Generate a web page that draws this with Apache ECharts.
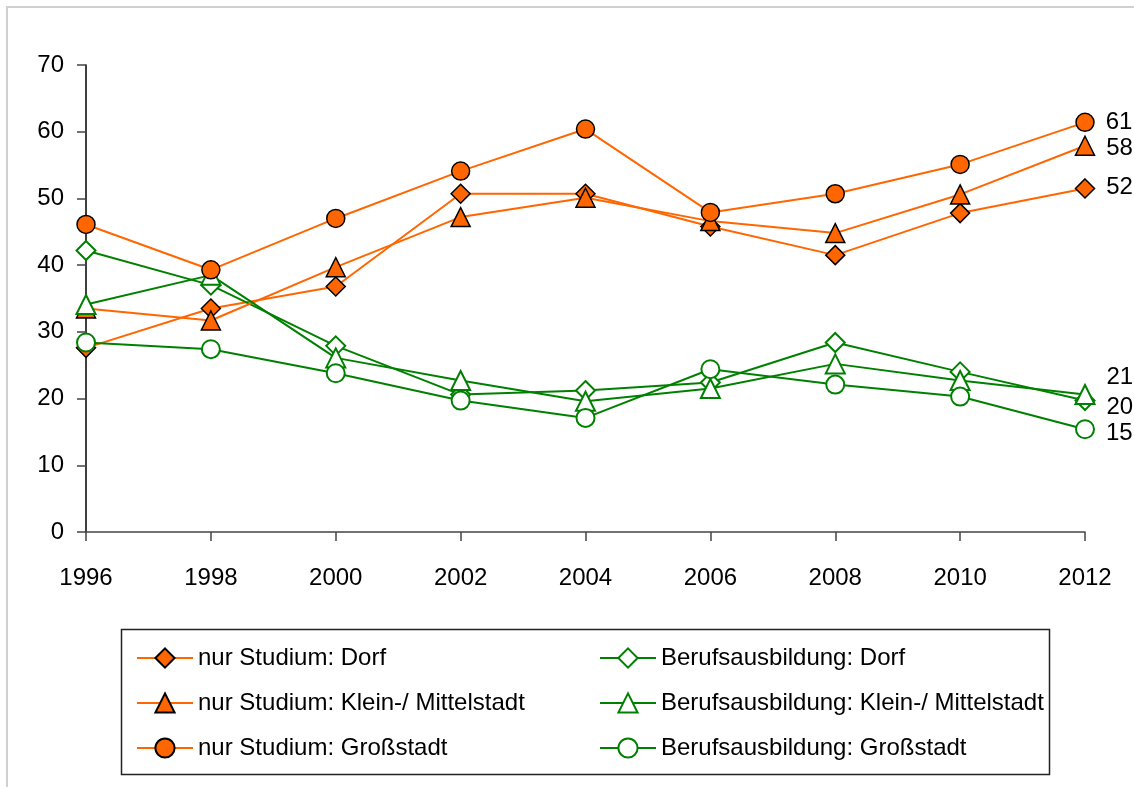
<!DOCTYPE html>
<html>
<head>
<meta charset="utf-8">
<script src="https://cdn.jsdelivr.net/npm/echarts@6/dist/echarts.min.js"></script>
<style>
html,body{margin:0;padding:0;background:#fff;}
#chart{width:1134px;height:787px;}
</style>
</head>
<body>
<div id="chart"></div>
<script>
const years = ['1996','1998','2000','2002','2004','2006','2008','2010','2012'];
const yTicks = [0,10,20,30,40,50,60,70];
const names = [
  'nur Studium: Dorf',
  'nur Studium: Klein-/ Mittelstadt',
  'nur Studium: Großstadt',
  'Berufsausbildung: Dorf',
  'Berufsausbildung: Klein-/ Mittelstadt',
  'Berufsausbildung: Großstadt'
];
const nsDorf   = [27.6, 33.5, 36.8, 50.7, 50.7, 45.8, 41.5, 47.8, 51.5];
const nsKlein  = [33.5, 31.7, 39.7, 47.2, 50.1, 46.6, 44.8, 50.6, 57.9];
const nsGross  = [46.1, 39.3, 47.0, 54.1, 60.4, 47.9, 50.7, 55.1, 61.4];
const baDorf   = [42.2, 37.0, 27.9, 20.6, 21.2, 22.4, 28.4, 24.0, 19.7];
const baKlein  = [34.1, 38.5, 26.1, 22.7, 19.6, 21.5, 25.2, 22.7, 20.6];
const baGross  = [28.4, 27.4, 23.8, 19.7, 17.1, 24.4, 22.1, 20.3, 15.4];

const FONT = "'Liberation Sans Narrow', 'Liberation Sans', Arial, sans-serif";
const FS = 24;
const ORANGE = '#FF6600';
const GREEN = '#008000';

function mkSeries(name, data, symbol, filled, labelOffsetY, z) {
  const last = data.length - 1;
  return {
    name: name,
    type: 'line',
    data: data,
    symbol: symbol,
    symbolSize: symbol === 'circle' ? 18 : 19,
    showAllSymbol: true,
    lineStyle: { color: filled ? ORANGE : GREEN, width: 2 },
    itemStyle: filled
      ? { color: ORANGE, borderColor: '#000', borderWidth: 1.5 }
      : { color: '#fff', borderColor: GREEN, borderWidth: 2 },
    label: {
      show: true,
      position: 'right',
      distance: 11,
      offset: [0, labelOffsetY],
      fontFamily: FONT,
      fontSize: FS,
      color: '#000',
      formatter: function (p) { return p.dataIndex === last ? String(Math.round(p.value)) : ''; }
    },
    emphasis: { disabled: true },
    z: z
  };
}

const chart = echarts.init(document.getElementById('chart'), null, { renderer: 'canvas' });
chart.setOption({
  animation: false,
  backgroundColor: '#fff',
  textStyle: { fontFamily: FONT },
  grid: { left: 86, right: 49, top: 65, bottom: 255, containLabel: false },
  xAxis: {
    type: 'category',
    data: years,
    boundaryGap: false,
    axisLine: { lineStyle: { color: '#444', width: 1.5 } },
    axisTick: { show: true, length: 9, lineStyle: { color: '#444', width: 1.5 } },
    axisLabel: { fontFamily: FONT, fontSize: FS, color: '#000', margin: 34 },
    splitLine: { show: false }
  },
  yAxis: {
    type: 'value',
    min: yTicks[0],
    max: yTicks[yTicks.length - 1],
    interval: 10,
    axisLine: { show: true, lineStyle: { color: '#000', width: 1.5 } },
    axisTick: { show: true, length: 9, lineStyle: { color: '#444', width: 1.5 } },
    axisLabel: { fontFamily: FONT, fontSize: FS, color: '#000', margin: 22 },
    splitLine: { show: false }
  },
  legend: [
    {
      data: names.slice(0, 3),
      orient: 'vertical',
      left: 131,
      top: 641,
      itemWidth: 56,
      itemHeight: 24,
      itemGap: 21,
      itemTextGap: 9,
      selectedMode: false,
      textStyle: { fontFamily: FONT, fontSize: FS, color: '#000', lineHeight: 24 }
    },
    {
      data: names.slice(3, 6),
      orient: 'vertical',
      left: 594,
      top: 641,
      itemWidth: 56,
      itemHeight: 24,
      itemGap: 21,
      itemTextGap: 7,
      selectedMode: false,
      textStyle: { fontFamily: FONT, fontSize: FS, color: '#000', lineHeight: 24 }
    }
  ],
  graphic: [
    {
      type: 'rect',
      shape: { x: 7, y: 7, width: 1160, height: 820 },
      style: { fill: 'none', stroke: '#d0d0d0', lineWidth: 2 },
      silent: true
    },
    {
      type: 'rect',
      shape: { x: 121.5, y: 629.5, width: 928, height: 145 },
      style: { fill: 'none', stroke: '#222', lineWidth: 1.5 },
      silent: true
    }
  ],
  series: [
    mkSeries(names[0], nsDorf, 'diamond', true, -1, 3),
    mkSeries(names[1], nsKlein, 'triangle', true, 3, 5),
    mkSeries(names[2], nsGross, 'circle', true, 0, 7),
    mkSeries(names[3], baDorf, 'diamond', false, 7, 4),
    mkSeries(names[4], baKlein, 'triangle', false, -17, 6),
    mkSeries(names[5], baGross, 'circle', false, 4, 8)
  ]
});
</script>
</body>
</html>
